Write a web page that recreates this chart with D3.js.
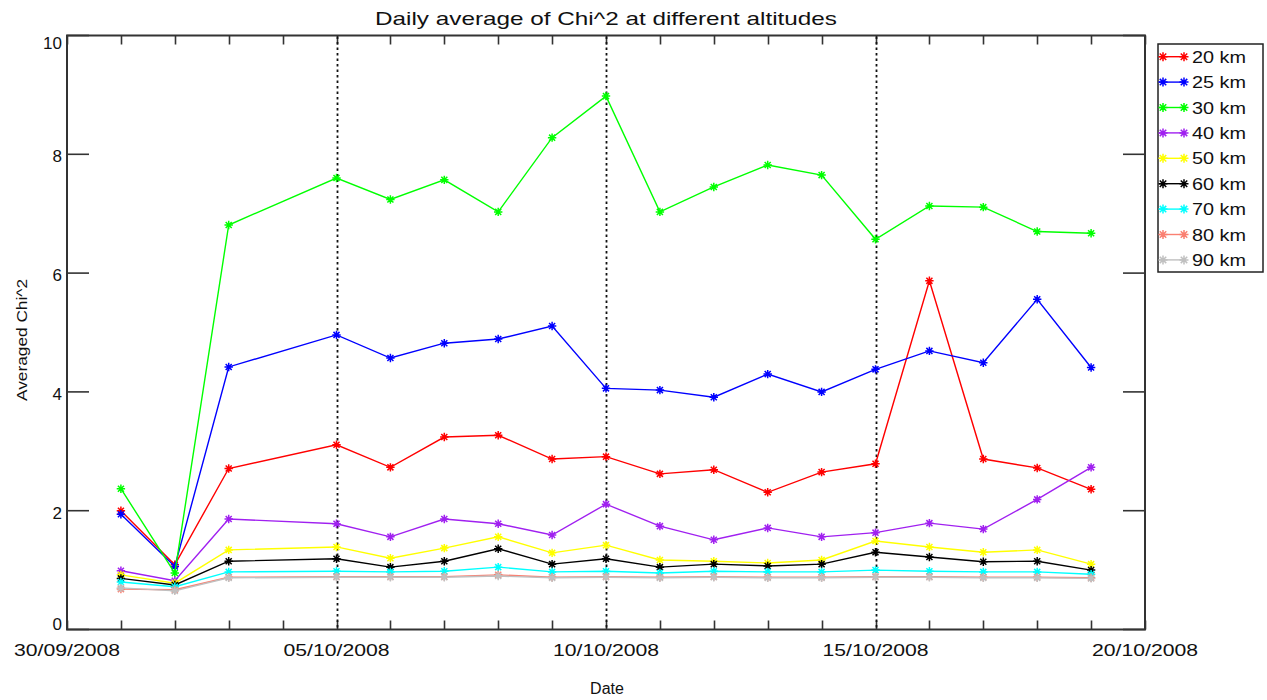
<!DOCTYPE html>
<html><head><meta charset="utf-8">
<script src="https://cdn.jsdelivr.net/npm/d3@7/dist/d3.min.js"></script>
<style>
html,body{margin:0;padding:0;background:#fff;}
svg{display:block;}
text{font-family:"Liberation Sans","DejaVu Sans",sans-serif;fill:#111;}
</style></head>
<body>
<svg id="chart" width="1267" height="700"></svg>
<script>
// ---- data ----
const dates = ["2008-10-01","2008-10-02","2008-10-03","2008-10-05","2008-10-06","2008-10-07","2008-10-08","2008-10-09","2008-10-10","2008-10-11","2008-10-12","2008-10-13","2008-10-14","2008-10-15","2008-10-16","2008-10-17","2008-10-18","2008-10-19"];
const labels = ["20 km","25 km","30 km","40 km","50 km","60 km","70 km","80 km","90 km"];
const colors = ["#ff0000","#0000ff","#00ff00","#a020f0","#ffff00","#000000","#00ffff","#fa8072","#c0c0c0"];
const km20 = [2.00,1.09,2.71,3.11,2.73,3.24,3.27,2.87,2.91,2.62,2.69,2.31,2.65,2.79,5.87,2.87,2.72,2.36];
const km25 = [1.94,1.06,4.42,4.96,4.57,4.82,4.89,5.11,4.06,4.03,3.91,4.30,4.00,4.38,4.69,4.49,5.56,4.41];
const km30 = [2.37,0.95,6.81,7.60,7.24,7.57,7.03,8.28,8.98,7.03,7.45,7.82,7.65,6.57,7.13,7.11,6.70,6.67];
const km40 = [0.99,0.82,1.86,1.78,1.56,1.86,1.78,1.59,2.11,1.74,1.51,1.71,1.56,1.63,1.79,1.69,2.19,2.73];
const km50 = [0.92,0.78,1.34,1.39,1.20,1.37,1.56,1.29,1.42,1.17,1.15,1.12,1.17,1.49,1.39,1.30,1.34,1.10];
const km60 = [0.86,0.75,1.15,1.19,1.05,1.15,1.36,1.10,1.19,1.05,1.10,1.07,1.10,1.30,1.22,1.14,1.15,1.00];
const km70 = [0.80,0.72,0.97,0.98,0.97,0.98,1.05,0.97,0.98,0.95,0.98,0.97,0.97,1.00,0.98,0.97,0.97,0.93];
const km80 = [0.68,0.67,0.88,0.89,0.89,0.89,0.92,0.88,0.89,0.88,0.89,0.88,0.88,0.89,0.89,0.88,0.88,0.87];
const km90 = [0.70,0.65,0.87,0.88,0.88,0.88,0.90,0.87,0.88,0.87,0.88,0.87,0.87,0.88,0.88,0.87,0.87,0.86];
const yTicks = [0,2,4,6,8,10];
const xDomain = ["2008-09-30","2008-10-20"];
const xLabelDates = ["2008-09-30","2008-10-05","2008-10-10","2008-10-15","2008-10-20"];
const dottedDates = ["2008-10-05","2008-10-10","2008-10-15"];
const title = "Daily average of Chi^2 at different altitudes";
const xTitle = "Date";
const yTitle = "Averaged Chi^2";

const seriesValues = [km20,km25,km30,km40,km50,km60,km70,km80,km90];
const parse = d3.timeParse("%Y-%m-%d");
const fmt = d3.timeFormat("%d/%m/%Y");

// ---- layout ----
const L = 67, R = 1145, T = 35.5, B = 629.5;
const svg = d3.select("#chart");
const x = d3.scaleTime().domain(xDomain.map(parse)).range([L, R]);
const y = d3.scaleLinear().domain([0, 10]).range([B, T]);

// title
svg.append("text").attr("x", (L+R)/2).attr("y", 25).attr("text-anchor","middle")
  .attr("font-size", 19).attr("textLength", 462).attr("lengthAdjust","spacingAndGlyphs").text(title);
svg.append("text").attr("x", (L+R)/2+1).attr("y", 694).attr("text-anchor","middle")
  .attr("font-size", 16).text(xTitle);
svg.append("text").attr("transform","translate(27,340) rotate(-90)").attr("text-anchor","middle")
  .attr("font-size", 15).attr("textLength", 122).attr("lengthAdjust","spacingAndGlyphs").text(yTitle);

const axisCol = "#333";
// minor day ticks (bottom & top)
const dayTicks = d3.timeDay.range(parse(xDomain[0]), d3.timeDay.offset(parse(xDomain[1]),1));
const tickG = svg.append("g").attr("stroke", axisCol).attr("stroke-width", 1.6);
dayTicks.forEach(d => {
  const xx = Math.round(x(d)) + 0.5;
  tickG.append("line").attr("x1",xx).attr("x2",xx).attr("y1",B).attr("y2",B-9);
  tickG.append("line").attr("x1",xx).attr("x2",xx).attr("y1",T).attr("y2",T+9);
});
// y ticks left & right
yTicks.forEach(v => {
  const yy = y(v);
  tickG.append("line").attr("x1",L).attr("x2",L+22).attr("y1",yy).attr("y2",yy);
  tickG.append("line").attr("x1",R).attr("x2",R-22).attr("y1",yy).attr("y2",yy);
});
// y tick labels
yTicks.forEach(v => {
  const yy = Math.max(43, Math.min(624, y(v) + 2));
  svg.append("text").attr("x", 62).attr("y", yy).attr("dy","0.35em").attr("text-anchor","end")
    .attr("font-size", 17).text(v);
});
// x tick labels
xLabelDates.forEach(s => {
  svg.append("text").attr("x", x(parse(s))).attr("y", 656).attr("text-anchor","middle")
    .attr("font-size", 17).attr("textLength", 106).attr("lengthAdjust","spacingAndGlyphs").text(fmt(parse(s)));
});
// frame
svg.append("rect").attr("x",L).attr("y",T).attr("width",R-L).attr("height",B-T)
  .attr("fill","none").attr("stroke",axisCol).attr("stroke-width",2);

// dotted verticals
dottedDates.forEach(s => {
  const xx = Math.round(x(parse(s))) + 0.5;
  svg.append("line").attr("x1",xx).attr("x2",xx).attr("y1",T+1).attr("y2",B-1)
    .attr("stroke","#111").attr("stroke-width",1.8).attr("stroke-dasharray","2.5,3");
});

// series
const star = r => { const a = r*0.72; return `M${-r},0L${r},0M0,${-r}L0,${r}M${-a},${-a}L${a},${a}M${-a},${a}L${a},${-a}`; };
const line = d3.line().x(d => x(d.date)).y(d => y(d.v));
seriesValues.forEach((vals, i) => {
  const pts = vals.map((v, j) => ({date: parse(dates[j]), v}));
  const g = svg.append("g");
  g.append("path").datum(pts).attr("d", line).attr("fill","none")
    .attr("stroke", colors[i]).attr("stroke-width", 1.4);
  g.selectAll("path.m").data(pts).join("path").attr("class","m")
    .attr("transform", d => `translate(${x(d.date)},${y(d.v)})`)
    .attr("d", star(4.2)).attr("stroke", colors[i]).attr("stroke-width", 1.5).attr("fill","none");
});

// legend
const lg = svg.append("g");
lg.append("rect").attr("x",1158).attr("y",44).attr("width",105).attr("height",228)
  .attr("fill","#fff").attr("stroke","#222").attr("stroke-width",1.5);
labels.forEach((lab, i) => {
  const yy = 56.7 + i*25.4;
  lg.append("line").attr("x1",1159).attr("x2",1185).attr("y1",yy).attr("y2",yy)
    .attr("stroke", colors[i]).attr("stroke-width",1.4);
  [1163,1184].forEach(xx => lg.append("path").attr("transform",`translate(${xx},${yy})`)
    .attr("d", star(4.5)).attr("stroke", colors[i]).attr("stroke-width",1.5).attr("fill","none"));
  lg.append("text").attr("x",1192).attr("y",yy).attr("dy","0.36em").attr("font-size",17)
    .attr("textLength", 54).attr("lengthAdjust","spacingAndGlyphs").text(lab);
});
</script>
</body></html>
